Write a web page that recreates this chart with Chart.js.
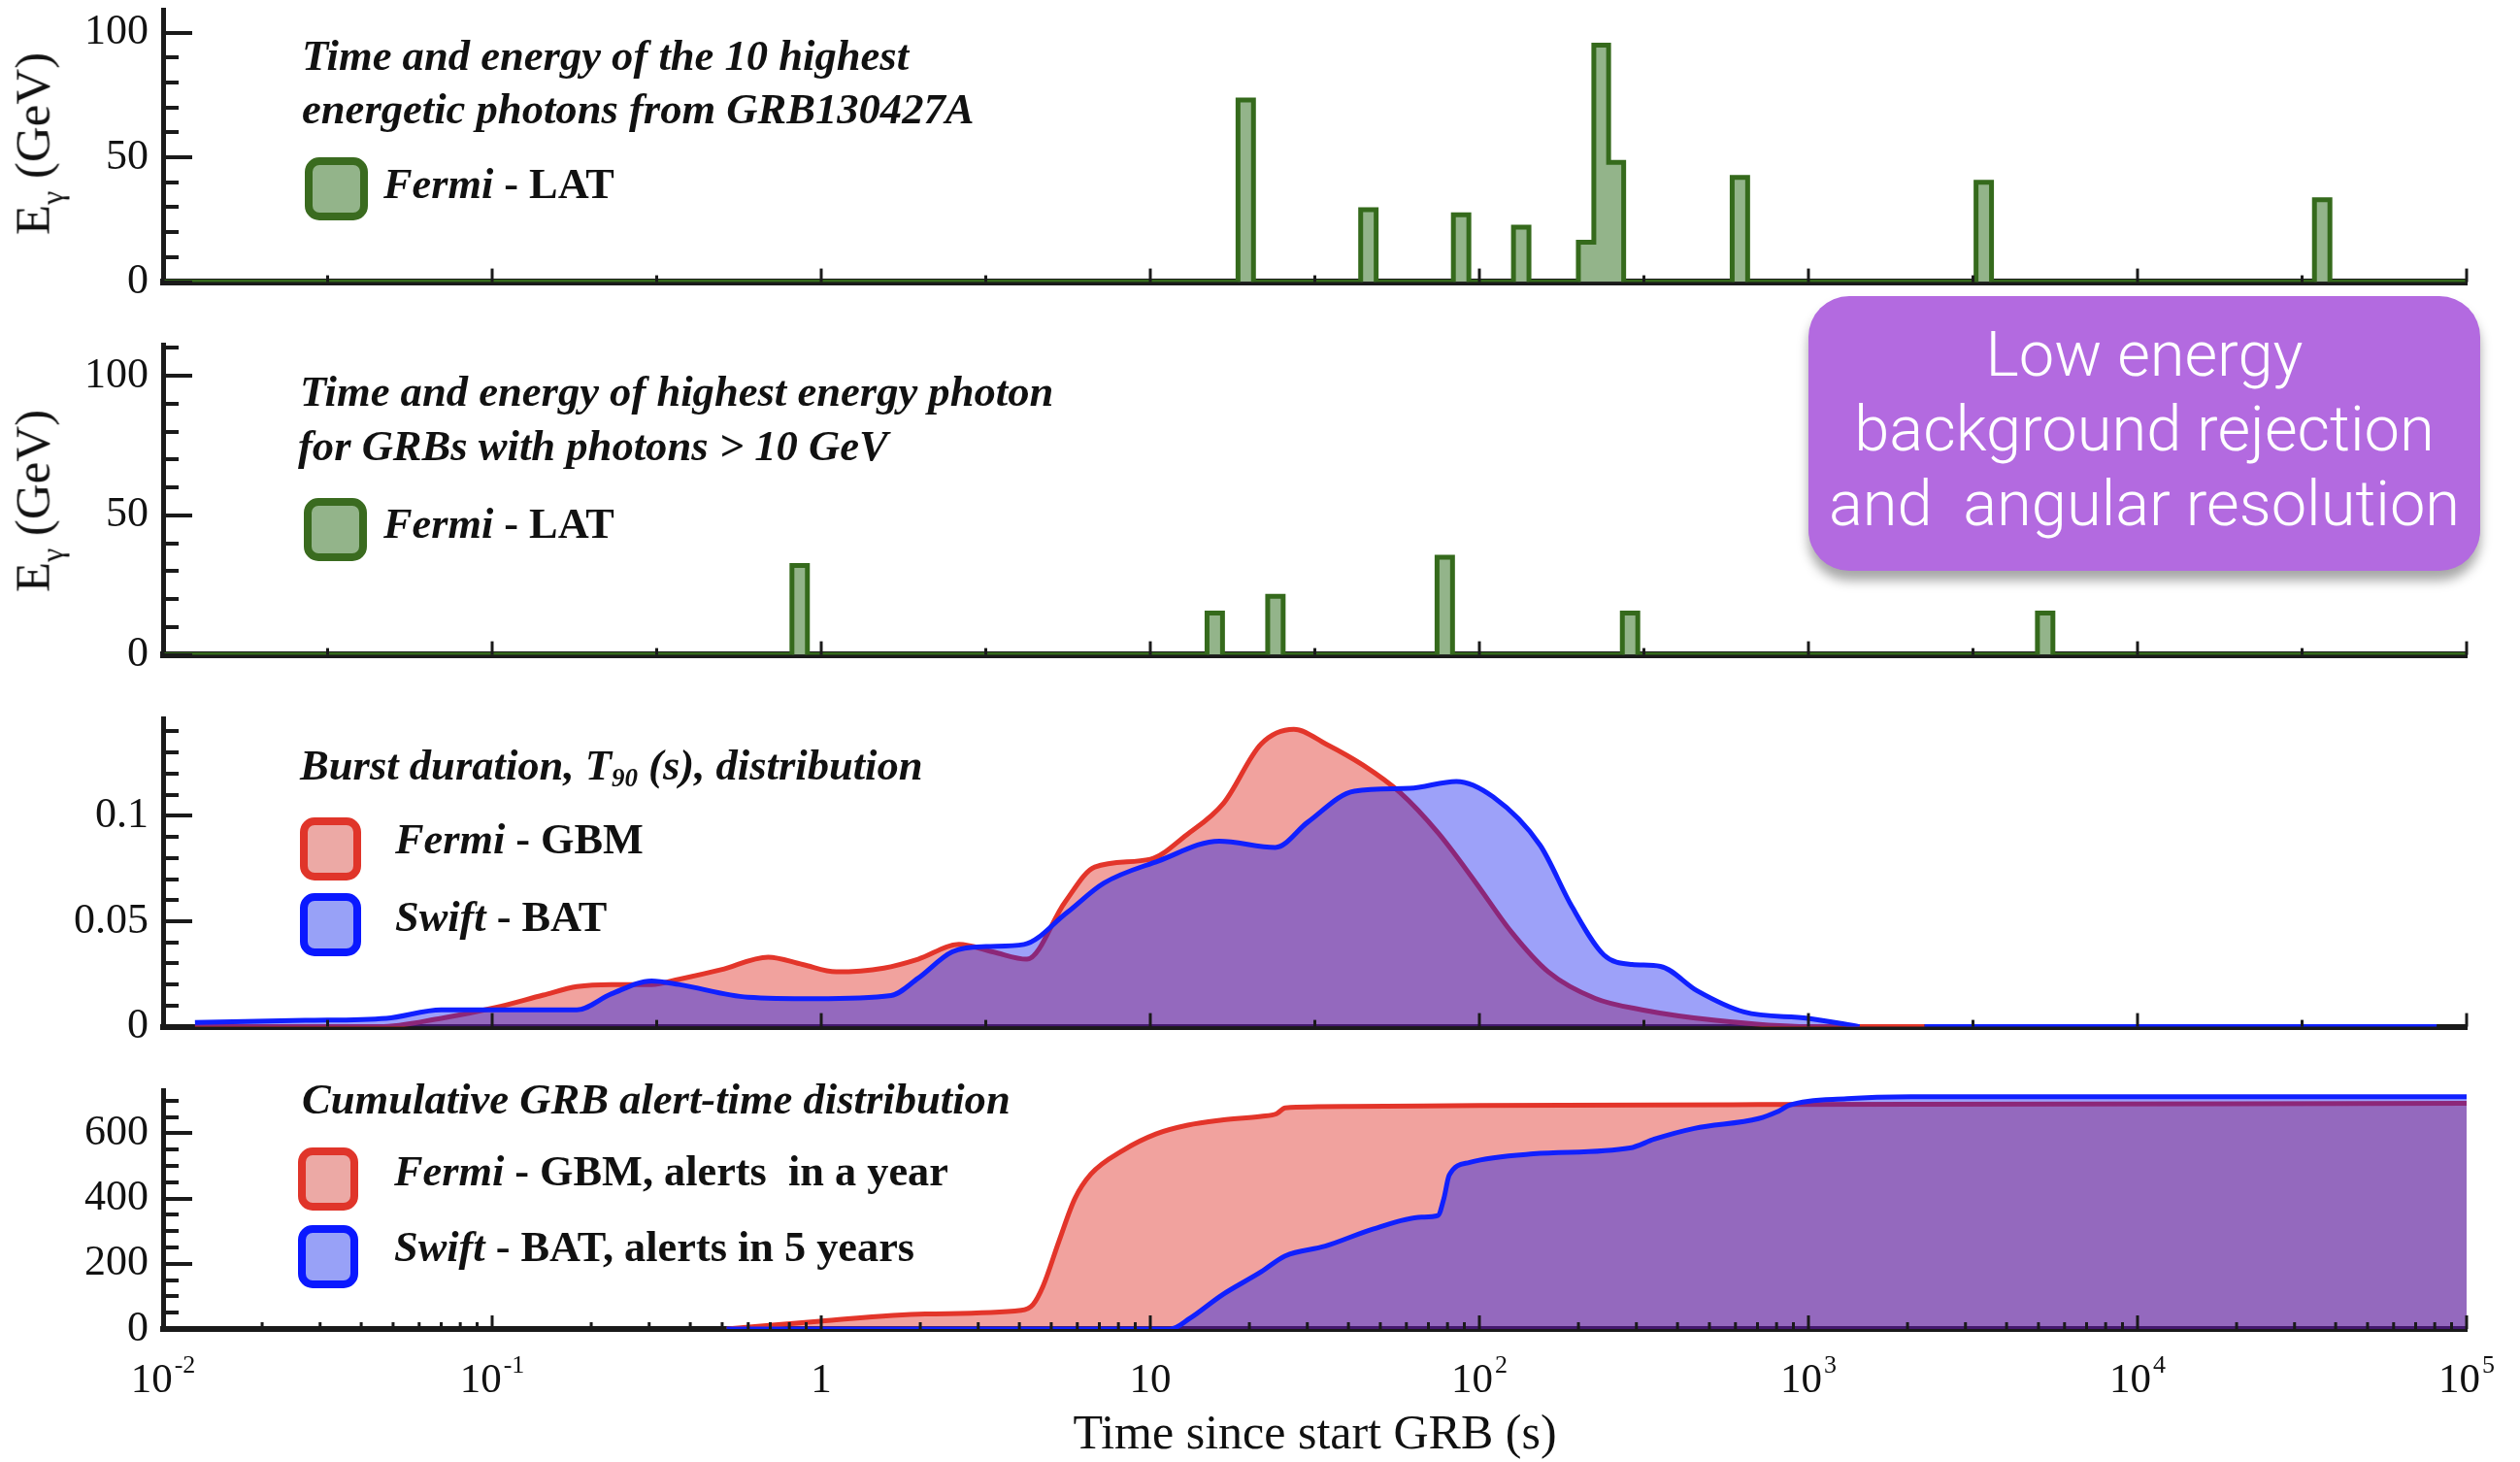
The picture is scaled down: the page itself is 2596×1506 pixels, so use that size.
<!DOCTYPE html>
<html>
<head>
<meta charset="utf-8">
<script src="https://cdn.jsdelivr.net/npm/chart.js@4.4.1/dist/chart.umd.min.js"></script>
<style>
html,body{margin:0;padding:0;background:#fff;}
#wrap{position:relative;width:2596px;height:1506px;overflow:hidden;background:#fff;}
canvas{position:absolute;left:0;}
.t{position:absolute;font-family:"Liberation Serif","Times New Roman",serif;color:#111;white-space:pre;line-height:1;}
.title{font-style:italic;font-weight:bold;font-size:44.6px;}
.leg{font-weight:bold;font-size:44.3px;}
.sw{position:absolute;box-sizing:border-box;border-style:solid;border-width:8px;border-radius:15px;}
.ylab{position:absolute;font-family:"Liberation Serif","Times New Roman",serif;font-size:51px;line-height:1;color:#111;white-space:pre;transform:translate(-50%,-50%) rotate(-90deg);}
#callout{position:absolute;left:1863px;top:305px;width:692px;height:283px;box-sizing:border-box;padding-top:22px;background:#b36ae0;border-radius:42px;box-shadow:0 10px 12px rgba(0,0,0,0.35);color:#fff;font-family:Roboto,"Open Sans",sans-serif;font-weight:300;font-size:65px;line-height:77px;text-align:center;white-space:pre;z-index:5;}
</style>
</head>
<body>
<div id="wrap">
  <canvas id="c1" width="2596" height="340" style="top:-20px"></canvas>
  <canvas id="c2" width="2596" height="379" style="top:325px"></canvas>
  <canvas id="c3" width="2596" height="377" style="top:710px"></canvas>
  <canvas id="c4" width="2596" height="413" style="top:1093px"></canvas>

  <div class="ylab" style="left:34px;top:148px">E<span style="font-size:32px;position:relative;top:14px;">γ</span> (GeV)</div>
  <div class="ylab" style="left:34px;top:516px">E<span style="font-size:32px;position:relative;top:14px;">γ</span> (GeV)</div>

  <div class="t title" style="left:311px;top:35px">Time and energy of the 10 highest</div>
  <div class="t title" style="left:311px;top:90px">energetic photons from GRB130427A</div>
  <div class="sw" style="left:314px;top:162px;width:65px;height:65px;border-color:#3a6b1f;background:#93b48a"></div>
  <div class="t leg" style="left:395px;top:168px"><i>Fermi</i> - LAT</div>

  <div class="t title" style="left:309px;top:381px">Time and energy of highest energy photon</div>
  <div class="t title" style="left:307px;top:437px">for GRBs with photons &gt; 10 GeV</div>
  <div class="sw" style="left:313px;top:513px;width:65px;height:65px;border-color:#3a6b1f;background:#93b48a"></div>
  <div class="t leg" style="left:395px;top:518px"><i>Fermi</i> - LAT</div>

  <div class="t title" style="left:309px;top:766px">Burst duration, T<span style="font-size:27px;position:relative;top:7px;">90</span> (s), distribution</div>
  <div class="sw" style="left:309px;top:842px;width:63px;height:65px;border-color:#e0352a;background:#eca9a5"></div>
  <div class="t leg" style="left:407px;top:843px"><i>Fermi</i> - GBM</div>
  <div class="sw" style="left:309px;top:920px;width:63px;height:65px;border-color:#0a18ff;background:#98a1f7"></div>
  <div class="t leg" style="left:407px;top:923px"><i>Swift</i> - BAT</div>

  <div class="t title" style="left:311px;top:1110px">Cumulative GRB alert-time distribution</div>
  <div class="sw" style="left:307px;top:1182px;width:62px;height:65px;border-color:#e0352a;background:#eca9a5"></div>
  <div class="t leg" style="left:406px;top:1185px"><i>Fermi</i> - GBM, alerts  in a year</div>
  <div class="sw" style="left:307px;top:1262px;width:62px;height:65px;border-color:#0a18ff;background:#98a1f7"></div>
  <div class="t leg" style="left:406px;top:1263px"><i>Swift</i> - BAT, alerts in 5 years</div>

  <div id="callout">Low energy
background rejection
and  angular resolution</div>
</div>

<script>
// ---------------- data ----------------
const TIME_MIN = 0.01;
const TIME_MAX = 1e5;
const xTickValues = [1e-2, 1e-1, 1, 10, 1e2, 1e3, 1e4, 1e5];
const xTickBases  = ['10', '10', '1', '10', '10', '10', '10', '10'];
const xTickExps   = ['-2', '-1', '', '', '2', '3', '4', '5'];
const xAxisTitle = 'Time since start GRB (s)';

// Panel 1: 10 highest-energy photons of GRB130427A (time s, energy GeV)
const grb130427Times    = [19.5, 46, 88, 134, 211, 234, 260, 619, 3410, 36400];
const grb130427Energies = [73, 29, 27, 22, 16, 95, 48, 42, 40, 33];

// Panel 2: highest-energy photon of GRBs with photons > 10 GeV
const grbHighTimes    = [0.86, 15.7, 24, 78.5, 287, 5240];
const grbHighEnergies = [32, 15, 21, 35, 15, 15];

const energyTickValues = [0, 50, 100];
const energyTickLabels = ['0', '50', '100'];

// Panel 3: T90 distributions
const gbmT90Times  = [0.0125, 0.0455, 0.07, 0.102, 0.143, 0.181, 0.23, 0.305, 0.37, 0.496, 0.69, 0.877, 1.11, 1.55, 1.97, 2.62, 3.32, 4.22, 5.5, 6.78, 10.0, 12.9, 16.7, 21.7, 27.3, 34.2, 44.3, 57.4, 74.8, 96.8, 125, 162, 225, 312, 522, 998, 2254];
const gbmT90Values = [0, 0, 0.004, 0.009, 0.015, 0.019, 0.020, 0.020, 0.0225, 0.027, 0.033, 0.0295, 0.026, 0.0278, 0.032, 0.039, 0.0355, 0.032, 0.059, 0.0757, 0.0794, 0.091, 0.106, 0.134, 0.141, 0.134, 0.124, 0.111, 0.092, 0.069, 0.045, 0.026, 0.0134, 0.008, 0.003, 0, 0];
const batT90Times  = [0.0125, 0.027, 0.0477, 0.07, 0.0975, 0.181, 0.23, 0.305, 0.37, 0.598, 0.964, 1.63, 1.97, 2.5, 3.17, 4.13, 5.57, 7.21, 10.6, 16.2, 24.0, 30.1, 41.7, 61.4, 85.1, 110, 153, 191, 239, 291, 355, 459, 637, 998, 1430, 1800, 2254, 81100];
const batT90Values = [0.002, 0.003, 0.004, 0.008, 0.008, 0.008, 0.0155, 0.0217, 0.020, 0.014, 0.0133, 0.0148, 0.023, 0.0355, 0.038, 0.039, 0.054, 0.068, 0.0786, 0.088, 0.085, 0.097, 0.1117, 0.113, 0.1163, 0.109, 0.086, 0.057, 0.034, 0.0295, 0.0286, 0.017, 0.007, 0.004, 0, null, 0, 0];
const t90TickValues = [0, 0.05, 0.1];
const t90TickLabels = ['0', '0.05', '0.1'];

// Panel 4: cumulative alert-time distributions
const gbmAlertTimes  = [0.516, 0.99, 2.07, 4.05, 4.4, 4.72, 5.28, 5.9, 6.6, 8.3, 10.4, 13, 16.3, 21.7, 24.2, 25.7, 40, 100, 700, 1e5];
const gbmAlertCounts = [0, 24, 46, 57, 75, 131, 270, 400, 475, 549, 598, 625, 640, 652, 660, 678, 682, 685, 688, 692];
const batAlertTimes  = [0.516, 11.5, 13.2, 16.5, 21.7, 25.7, 34, 47.7, 66.7, 74.8, 78, 81, 93.5, 146, 287, 340, 450, 705, 800, 881, 1309, 2050, 1e5];
const batAlertCounts = [0, 0, 33, 104, 175, 224, 254, 307, 343, 348, 400, 472, 511, 537, 555, 582, 615, 645, 665, 687, 706, 712, 712];
const alertTickValues = [0, 200, 400, 600];
const alertTickLabels = ['0', '200', '400', '600'];

// ---------------- helpers ----------------
const pairs = (xs, ys) => xs.map((x, i) => ({ x: x, y: ys[i] }));

// histogram outline (log-width bins) built from photon times/energies
const BIN_LOG_WIDTH = 0.047;
function histOutline(times, heights) {
  const half = BIN_LOG_WIDTH / 2;
  const pts = [{ x: TIME_MIN, y: 0 }];
  let prevR = null;
  times.forEach((t, i) => {
    const l = t / Math.pow(10, half), r = t * Math.pow(10, half), h = heights[i];
    if (prevR !== null && Math.abs(Math.log10(l / prevR)) < 0.012) {
      pts.pop();
      pts.push({ x: prevR, y: h });
    } else {
      pts.push({ x: l, y: 0 });
      pts.push({ x: l, y: h });
    }
    pts.push({ x: r, y: h });
    pts.push({ x: r, y: 0 });
    prevR = r;
  });
  pts.push({ x: TIME_MAX, y: 0 });
  return pts;
}

function linTicks(max, step, majorStep) {
  const out = [];
  for (let k = 0; k * step <= max + 1e-9; k++) {
    const v = +(k * step).toFixed(6);
    const r = v / majorStep;
    out.push({ v: v, major: Math.abs(r - Math.round(r)) < 1e-6 });
  }
  return out;
}
function halfDecadeTicks() {
  const out = [];
  for (let k = -4; k <= 10; k++) out.push({ v: Math.pow(10, k / 2), major: k % 2 === 0 });
  return out;
}
function logTicks() {
  const out = [];
  for (let e = -2; e <= 5; e++) {
    for (let m = 1; m <= 9; m++) {
      if (e === 5 && m > 1) break;
      out.push({ v: m * Math.pow(10, e), major: m === 1 });
    }
  }
  return out;
}

const axisDecor = {
  id: 'axisDecor',
  afterDatasetsDraw(chart, args, o) {
    const ctx = chart.ctx, ca = chart.chartArea, x = chart.scales.x, y = chart.scales.y;
    ctx.save();
    ctx.strokeStyle = '#1a1a1a';
    ctx.lineWidth = 4;
    (o.yTicks || []).forEach(t => {
      const py = Math.round(y.getPixelForValue(t.v));
      ctx.beginPath(); ctx.moveTo(ca.left, py); ctx.lineTo(ca.left + (t.major ? 30 : 16), py); ctx.stroke();
    });
    ctx.lineWidth = 3;
    (o.xTicks || []).forEach(t => {
      const px = x.getPixelForValue(t.v);
      ctx.beginPath(); ctx.moveTo(px, ca.bottom); ctx.lineTo(px, ca.bottom - (t.major ? 14 : 7)); ctx.stroke();
    });
    if (o.xLabels) {
      ctx.fillStyle = '#111';
      ctx.textBaseline = 'alphabetic';
      ctx.textAlign = 'left';
      xTickValues.forEach((v, i) => {
        const px = x.getPixelForValue(v);
        ctx.font = '43px "Liberation Serif"';
        const wb = ctx.measureText(xTickBases[i]).width;
        ctx.font = '26px "Liberation Serif"';
        const we = xTickExps[i] ? ctx.measureText(xTickExps[i]).width + 2 : 0;
        const x0 = px - (wb + we) / 2;
        ctx.font = '43px "Liberation Serif"';
        ctx.fillText(xTickBases[i], x0, ca.bottom + 65);
        if (xTickExps[i]) {
          ctx.font = '26px "Liberation Serif"';
          ctx.fillText(xTickExps[i], x0 + wb + 2, ca.bottom + 45);
        }
      });
    }
    ctx.restore();
  }
};

function makeChart(id, cfg) {
  const canvas = document.getElementById(id);
  const chart = new Chart(canvas, {
    type: 'line',
    data: { datasets: cfg.datasets },
    options: {
      responsive: false,
      maintainAspectRatio: false,
      animation: false,
      devicePixelRatio: 1,
      layout: { padding: { top: 30, right: 55, left: 0, bottom: 0 } },
      elements: { point: { radius: 0, hoverRadius: 0 } },
      plugins: { legend: { display: false }, tooltip: { enabled: false }, axisDecor: cfg.decor },
      scales: {
        x: {
          type: 'logarithmic', min: TIME_MIN, max: TIME_MAX, position: 'bottom',
          grid: { display: false, drawTicks: false },
          border: { display: true, width: cfg.xBorderWidth || 6, color: '#1a1a1a' },
          ticks: { display: false },
          title: cfg.xTitle || { display: false },
          afterFit: s => { s.height = cfg.xHeight; }
        },
        y: {
          type: 'linear', min: 0, max: cfg.yMax, position: 'left',
          grid: { display: false, drawTicks: false },
          border: { display: true, width: 5, color: '#1a1a1a' },
          afterBuildTicks: s => { s.ticks = cfg.yTickValues.map(v => ({ value: v })); },
          ticks: {
            autoSkip: false, padding: 15, color: '#111',
            font: { family: '"Liberation Serif"', size: 44 },
            callback: (v, i) => cfg.yTickLabels[i]
          },
          afterFit: s => { s.width = 168; }
        }
      }
    },
    plugins: [axisDecor]
  });
  // place the canvas so that the plot area spans exactly [axisTop, zeroY] on the page
  for (let pass = 0; pass < 2; pass++) {
    const ca = chart.chartArea;
    const topInset = ca.top, bottomInset = chart.height - ca.bottom;
    const newH = Math.round(topInset + (cfg.zeroY - cfg.axisTop) + bottomInset);
    canvas.style.top = Math.round(cfg.axisTop - topInset) + 'px';
    if (newH !== chart.height) chart.resize(2596, newH);
  }
  return chart;
}

const histStyle = {
  borderColor: '#356a1c', backgroundColor: '#93b48a', borderWidth: 5,
  fill: 'origin', tension: 0, borderJoinStyle: 'miter', pointRadius: 0
};

makeChart('c1', {
  axisTop: 10, zeroY: 290,
  yMax: 109, xHeight: 30, xBorderWidth: 7,
  yTickValues: energyTickValues, yTickLabels: energyTickLabels,
  datasets: [Object.assign({ label: 'Fermi - LAT', data: histOutline(grb130427Times, grb130427Energies) }, histStyle)],
  decor: { yTicks: linTicks(109, 10, 50), xTicks: halfDecadeTicks() }
});

makeChart('c2', {
  axisTop: 355, zeroY: 674,
  yMax: 111, xHeight: 30, xBorderWidth: 7,
  yTickValues: energyTickValues, yTickLabels: energyTickLabels,
  datasets: [Object.assign({ label: 'Fermi - LAT', data: histOutline(grbHighTimes, grbHighEnergies) }, histStyle)],
  decor: { yTicks: linTicks(111, 10, 50), xTicks: halfDecadeTicks() }
});

makeChart('c3', {
  axisTop: 740, zeroY: 1057,
  yMax: 0.146, xHeight: 30,
  yTickValues: t90TickValues, yTickLabels: t90TickLabels,
  datasets: [
    { label: 'Swift - BAT', data: pairs(batT90Times, batT90Values), borderColor: '#1020ff', backgroundColor: 'rgba(10,20,240,0.40)',
      borderWidth: 5, fill: 'origin', cubicInterpolationMode: 'monotone', pointRadius: 0, spanGaps: false },
    { label: 'Fermi - GBM', data: pairs(gbmT90Times, gbmT90Values), borderColor: '#e3352a', backgroundColor: 'rgba(220,30,20,0.41)',
      borderWidth: 5, fill: 'origin', cubicInterpolationMode: 'monotone', pointRadius: 0 }
  ],
  decor: { yTicks: linTicks(0.146, 0.01, 0.05), xTicks: halfDecadeTicks() }
});

makeChart('c4', {
  axisTop: 1123, zeroY: 1369,
  yMax: 731, xHeight: 135,
  yTickValues: alertTickValues, yTickLabels: alertTickLabels,
  xTitle: { display: true, text: xAxisTitle, color: '#111', font: { family: '"Liberation Serif"', size: 50, lineHeight: 1 }, padding: { top: 0, bottom: 0 } },
  datasets: [
    { label: 'Swift - BAT, alerts in 5 years', data: pairs(batAlertTimes, batAlertCounts), borderColor: '#1020ff', backgroundColor: 'rgba(10,20,240,0.40)',
      borderWidth: 5, fill: 'origin', cubicInterpolationMode: 'monotone', pointRadius: 0 },
    { label: 'Fermi - GBM, alerts in a year', data: pairs(gbmAlertTimes, gbmAlertCounts), borderColor: '#e3352a', backgroundColor: 'rgba(220,30,20,0.41)',
      borderWidth: 5, fill: 'origin', cubicInterpolationMode: 'monotone', pointRadius: 0 }
  ],
  decor: { yTicks: linTicks(731, 50, 200), xTicks: logTicks(), xLabels: true }
});
</script>
</body>
</html>
